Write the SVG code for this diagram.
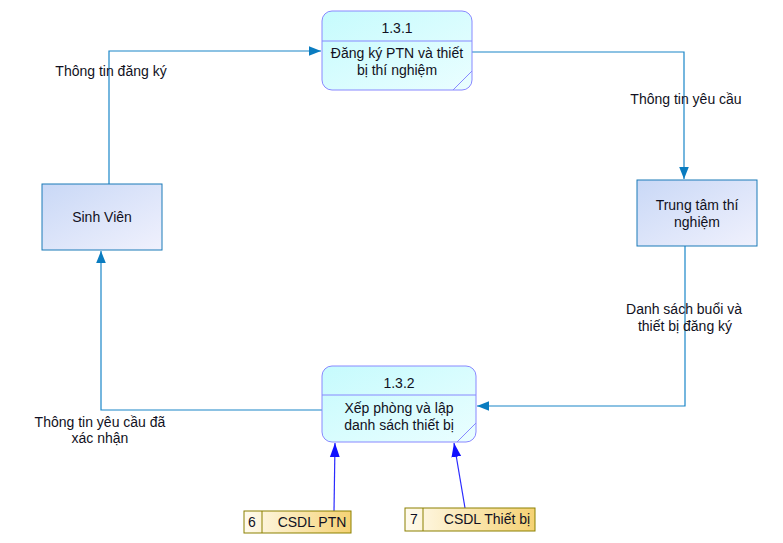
<svg xmlns="http://www.w3.org/2000/svg" width="783" height="543" viewBox="0 0 783 543">
  <style>
    text { font-family: "Liberation Sans", Arial, sans-serif; font-size: 14px; fill: #111122; }
    .mid { text-anchor: middle; }
    .proc { fill: url(#procFill); stroke: #8888ff; stroke-width: 1; }
    .procline { stroke: #8888ff; stroke-width: 1; fill: none; }
    .ent { fill: url(#entFill); stroke: #1a7ab8; stroke-width: 1; }
    .store { fill: url(#storeFill); stroke: #8b8000; stroke-width: 1; }
    .flow { fill: none; stroke: #1a86c8; stroke-width: 1.2; }
    .dflow { fill: none; stroke: #2a2aff; stroke-width: 1.2; }
  </style>
  <defs>
    <linearGradient id="procFill" x1="0" y1="0" x2="1" y2="1">
      <stop offset="0" stop-color="#c6fbfd"/>
      <stop offset="1" stop-color="#eafeff"/>
    </linearGradient>
    <linearGradient id="entFill" x1="0" y1="0" x2="1" y2="1">
      <stop offset="0" stop-color="#c9d8f6"/>
      <stop offset="1" stop-color="#f0f1fd"/>
    </linearGradient>
    <linearGradient id="storeFill" x1="0" y1="0" x2="1" y2="0">
      <stop offset="0" stop-color="#fffbee"/>
      <stop offset="1" stop-color="#f5d274"/>
    </linearGradient>
    <marker id="arr" viewBox="0 0 10 10" refX="10" refY="5" markerWidth="12" markerHeight="12" markerUnits="userSpaceOnUse" orient="auto">
      <path d="M0,1 L10,5 L0,9 Z" fill="#0a7cc0"/>
    </marker>
    <marker id="arrB" viewBox="0 0 10 10" refX="10" refY="5" markerWidth="14" markerHeight="14" markerUnits="userSpaceOnUse" orient="auto">
      <path d="M0,1.5 L10,5 L0,8.5 Z" fill="#1010ff"/>
    </marker>
  </defs>

  <!-- data flows -->
  <g id="connectors">
    <polyline class="flow" points="109,184 109,51 321,51" marker-end="url(#arr)"/>
    <polyline class="flow" points="472,52 684,52 684,179" marker-end="url(#arr)"/>
    <polyline class="flow" points="685,246 685,406 477,406" marker-end="url(#arr)"/>
    <polyline class="flow" points="322,410 101,410 101,251" marker-end="url(#arr)"/>
    <line class="dflow" x1="334" y1="511" x2="335" y2="443" marker-end="url(#arrB)"/>
    <line class="dflow" x1="465" y1="508" x2="454" y2="443" marker-end="url(#arrB)"/>
    <text class="mid" x="111" y="76">Thông tin đăng ký</text>
    <text class="mid" x="686" y="104">Thông tin yêu cầu</text>
    <text class="mid" x="684" y="314">Danh sách buổi và</text>
    <text class="mid" x="685" y="331">thiết bị đăng ký</text>
    <text class="mid" x="100" y="427">Thông tin yêu cầu đã</text>
    <text class="mid" x="100" y="443">xác nhận</text>
  </g>

  <!-- process 1.3.1 -->
  <g id="p131">
    <rect class="proc" x="322" y="11" width="150" height="79" rx="10" ry="10"/>
    <line class="procline" x1="322" y1="41" x2="472" y2="41"/>
    <line class="procline" x1="453" y1="90" x2="472" y2="71"/>
    <text class="mid" x="397" y="33">1.3.1</text>
    <text class="mid" x="397" y="58">Đăng ký PTN và thiết</text>
    <text class="mid" x="397" y="75">bị thí nghiệm</text>
  </g>

  <!-- process 1.3.2 -->
  <g id="p132">
    <rect class="proc" x="322" y="366" width="154" height="76" rx="10" ry="10"/>
    <line class="procline" x1="322" y1="395" x2="476" y2="395"/>
    <line class="procline" x1="457" y1="442" x2="476" y2="423"/>
    <text class="mid" x="399" y="388">1.3.2</text>
    <text class="mid" x="399" y="413">Xếp phòng và lập</text>
    <text class="mid" x="399" y="430">danh sách thiết bị</text>
  </g>

  <!-- external entities -->
  <g id="sinhvien">
    <rect class="ent" x="42" y="184" width="120" height="66"/>
    <text class="mid" x="102" y="222">Sinh Viên</text>
  </g>
  <g id="trungtam">
    <rect class="ent" x="637" y="180" width="120" height="66"/>
    <text class="mid" x="697" y="210">Trung tâm thí</text>
    <text class="mid" x="697" y="227">nghiệm</text>
  </g>

  <!-- data stores -->
  <g id="ds6">
    <rect class="store" x="244" y="511" width="107" height="22"/>
    <line class="store" x1="262" y1="511" x2="262" y2="533"/>
    <text x="248" y="527">6</text>
    <text class="mid" x="312" y="527">CSDL PTN</text>
  </g>
  <g id="ds7">
    <rect class="store" x="405" y="508" width="130" height="23"/>
    <line class="store" x1="423" y1="508" x2="423" y2="531"/>
    <text x="410" y="524">7</text>
    <text class="mid" x="487" y="524">CSDL Thiết bị</text>
  </g>
</svg>
